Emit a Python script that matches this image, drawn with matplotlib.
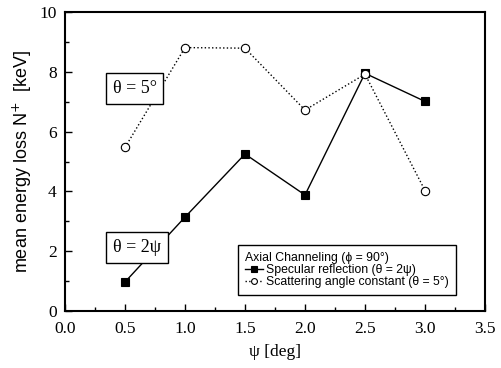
import matplotlib
matplotlib.use("Agg")
import matplotlib.pyplot as plt
from matplotlib.ticker import MultipleLocator, FormatStrFormatter

# 値
psi = [0.5, 1.0, 1.5, 2.0, 2.5, 3.0]
specular = [0.97, 3.14, 5.25, 3.88, 7.95, 7.01]
const_angle = [5.47, 8.81, 8.79, 6.72, 7.92, 4.03]

label_spec = "Specular reflection (\u03b8 = 2\u03c8)"
label_const = "Scattering angle constant (\u03b8 = 5\u00b0)"
legend_title = "Axial Channeling (\u03d5 = 90\u00b0)"

serif = ["Liberation Serif", "DejaVu Serif"]
sans = ["Liberation Sans", "DejaVu Sans"]

fig = plt.figure(figsize=(5.02, 3.68), dpi=100)
ax = fig.add_axes([65 / 502, 1 - 311 / 368, 420 / 502, 299 / 368])

ax.plot(psi, specular, "-", color="black", lw=1.0, marker="s",
        ms=5.6, mfc="black", mec="black", mew=0.8, label=label_spec, zorder=3)
ax.plot(psi, const_angle, ":", color="black", lw=1.0, marker="o",
        ms=6.0, mfc="white", mec="black", mew=0.8, label=label_const, zorder=4)

ax.set_xlim(0, 3.5)
ax.set_ylim(0, 10)
ax.xaxis.set_major_locator(MultipleLocator(0.5))
ax.xaxis.set_minor_locator(MultipleLocator(0.25))
ax.yaxis.set_major_locator(MultipleLocator(2))
ax.yaxis.set_minor_locator(MultipleLocator(1))
ax.tick_params(which="both", direction="in", width=1.0)
ax.tick_params(which="major", length=5)
ax.tick_params(which="minor", length=3)
ax.tick_params(axis="x", which="major", pad=7)
ax.tick_params(axis="y", which="major", pad=6)
for s in ax.spines.values():
    s.set_linewidth(1.5)

ax.xaxis.set_major_formatter(FormatStrFormatter("%.1f"))
ax.yaxis.set_major_formatter(FormatStrFormatter("%d"))
for lab in ax.get_xticklabels() + ax.get_yticklabels():
    lab.set_family(serif)
    lab.set_fontsize(12.5)

ax.set_xlabel("\u03c8 [deg]", family=serif, fontsize=12.5, labelpad=5)
ax.set_ylabel("mean energy loss N$^{+}$  [keV]", family=sans, fontsize=13, labelpad=4)

box = dict(boxstyle="square,pad=0.38", fc="white", ec="black", lw=1.0)
ax.text(0.58, 7.45, "\u03b8 = 5\u00b0", family=serif, fontsize=13,
        ha="center", va="center", bbox=box, zorder=5)
ax.text(0.6, 2.12, "\u03b8 = 2\u03c8", family=serif, fontsize=13,
        ha="center", va="center", bbox=box, zorder=5)

# 凡例（タイトル付き、左寄せ）
lprop = {"family": sans, "size": 8.8}
leg = ax.legend(title=legend_title, loc="lower left", bbox_to_anchor=(0.412, 0.054),
                prop=lprop, title_fontproperties=lprop,
                frameon=True, fancybox=False, edgecolor="black", handlelength=1.5,
                handletextpad=0.25, borderpad=0.55, labelspacing=0.02, borderaxespad=0,
                markerscale=0.7, framealpha=1)
leg.get_frame().set_linewidth(1.0)
leg._legend_box.align = "left"

fig.savefig("out.png", dpi=100)
